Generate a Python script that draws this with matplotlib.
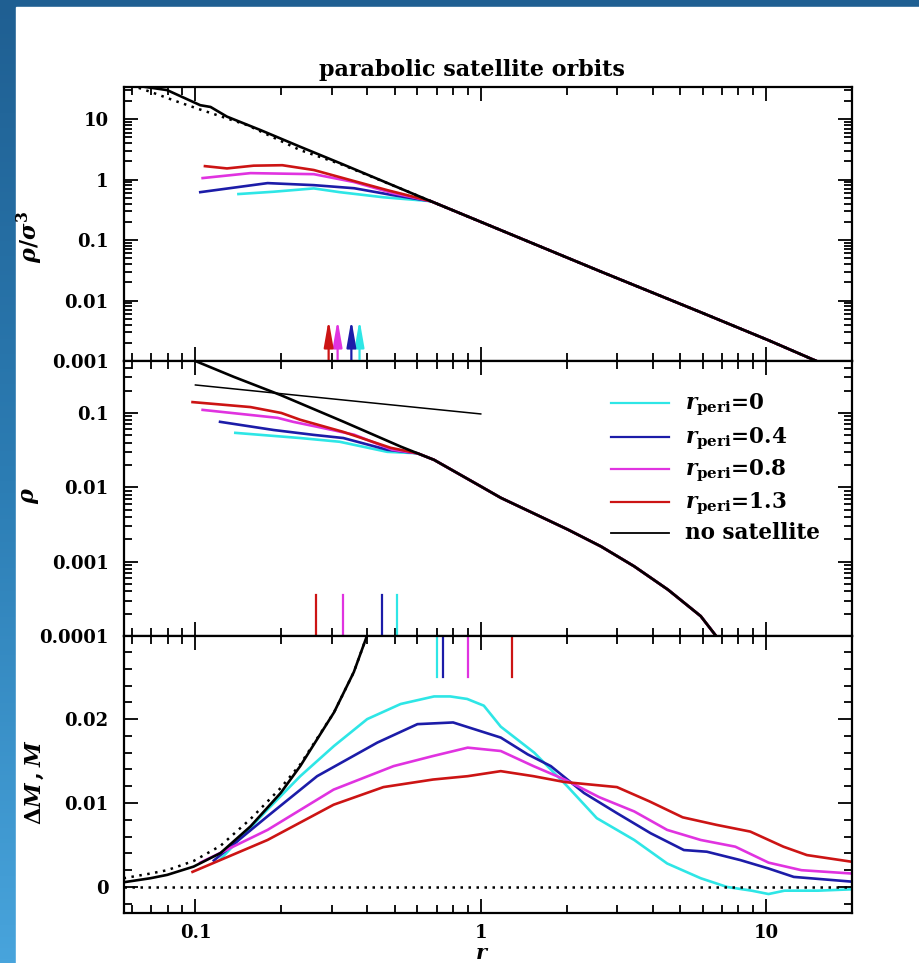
import numpy as np
import matplotlib
matplotlib.use('Agg')
import matplotlib.pyplot as plt
from matplotlib.ticker import LogLocator, MultipleLocator, FuncFormatter, NullFormatter
from matplotlib.patches import Rectangle
from matplotlib.colors import LinearSegmentedColormap

plt.rcParams['font.family'] = ['DejaVu Serif']
plt.rcParams['font.weight'] = 'bold'
plt.rcParams['mathtext.fontset'] = 'dejavuserif'

###############################################################################
# data
###############################################################################
names = ['0', '0.4', '0.8', '1.3']
colors = ['#2ee6e6', '#1c1ca8', '#e033e0', '#cc1414']

# --- top panel: rho / sigma^3 ---
top_black_r = [0.056, 0.0607, 0.0796, 0.104, 0.113, 0.129, 0.169, 0.233, 0.323, 0.524, 0.668, 1.175, 2.64, 5.9, 10.2, 15.0]
top_black_v = [38.0, 36.4, 30.2, 17.0, 15.9, 11.0, 6.6, 3.49, 1.85, 0.71, 0.44, 0.146, 0.030, 0.0064, 0.0022, 0.001]
top_dot_r = [0.056, 0.07, 0.085, 0.104, 0.152, 0.233, 0.323, 0.524, 0.668, 1.175, 2.64, 5.9, 10.2, 15.0]
top_dot_v = [40.0, 28.0, 20.0, 14.4, 7.96, 3.07, 1.80, 0.71, 0.44, 0.146, 0.030, 0.0064, 0.0022, 0.001]
top_tail_r = [1.175, 2.64, 5.9, 10.2, 15.0]
top_tail_v = [0.146, 0.030, 0.0064, 0.0022, 0.001]
top_cyan_r = [0.1415, 0.188, 0.26, 0.32, 0.456, 0.668]
top_cyan_v = [0.577, 0.63, 0.715, 0.62, 0.51, 0.44]
top_blue_r = [0.104, 0.179, 0.26, 0.36, 0.49, 0.668]
top_blue_v = [0.62, 0.875, 0.81, 0.72, 0.555, 0.44]
top_mag_r = [0.106, 0.156, 0.26, 0.36, 0.49, 0.668]
top_mag_v = [1.06, 1.28, 1.23, 0.91, 0.60, 0.44]
top_red_r = [0.108, 0.129, 0.16, 0.2016, 0.26, 0.35, 0.47, 0.668]
top_red_v = [1.67, 1.53, 1.70, 1.73, 1.44, 0.98, 0.67, 0.44]
arrow_r = [0.376, 0.352, 0.315, 0.293]          # cyan, blue, magenta, red
arrow_lo, arrow_hi = 0.001, 0.0048

# --- middle panel: rho ---
mid_black_r = [0.098, 0.1, 0.136, 0.199, 0.33, 0.524, 0.6, 0.686, 1.0, 1.175, 2.02, 2.64, 3.45, 4.53, 5.9, 6.68, 7.2]
mid_black_v = [0.52, 0.5, 0.307, 0.174, 0.0764, 0.0353, 0.0287, 0.0234, 0.0103, 0.00723, 0.0027, 0.0016, 0.000865, 0.00042, 0.000185, 0.0001, 0.00008]
mid_thin_r = [0.1, 1.0]
mid_thin_v = [0.238, 0.097]
mid_tail_r = [1.0, 1.175, 2.02, 2.64, 3.45, 4.53, 5.9, 6.68, 7.2]
mid_tail_v = [0.0103, 0.00723, 0.0027, 0.0016, 0.000865, 0.00042, 0.000185, 0.0001, 0.00008]
mid_cyan_r = [0.138, 0.233, 0.32, 0.47, 0.6, 0.686]
mid_cyan_v = [0.054, 0.046, 0.041, 0.030, 0.0287, 0.0234]
mid_blue_r = [0.122, 0.188, 0.26, 0.33, 0.47, 0.6, 0.686]
mid_blue_v = [0.076, 0.059, 0.0507, 0.046, 0.032, 0.0287, 0.0234]
mid_mag_r = [0.106, 0.194, 0.22, 0.268, 0.36, 0.49, 0.6, 0.686]
mid_mag_v = [0.11, 0.086, 0.076, 0.065, 0.051, 0.032, 0.0287, 0.0234]
mid_red_r = [0.0977, 0.156, 0.2, 0.233, 0.33, 0.483, 0.6, 0.686]
mid_red_v = [0.14, 0.12, 0.10, 0.081, 0.0556, 0.034, 0.0287, 0.0234]
mid_mark_r = [0.51, 0.45, 0.33, 0.264]
mid_mark_lo, mid_mark_hi = 0.0001, 0.00036

# --- bottom panel: Delta M, M ---
bot_black_r = [0.056, 0.0695, 0.0796, 0.0986, 0.1224, 0.156, 0.199, 0.233, 0.306, 0.359, 0.40, 0.42]
bot_black_v = [0.00056, 0.00104, 0.00144, 0.00243, 0.00404, 0.00722, 0.0112, 0.0144, 0.0208, 0.0256, 0.030, 0.033]
bot_dot_r = [0.056, 0.0695, 0.0796, 0.0986, 0.1224, 0.156, 0.199, 0.233, 0.306, 0.359, 0.40, 0.42]
bot_dot_v = [0.00104, 0.0016, 0.0020, 0.0031, 0.0049, 0.0081, 0.0118, 0.0146, 0.0208, 0.0256, 0.030, 0.033]
bot_cyan_r = [0.1224, 0.1786, 0.233, 0.306, 0.40, 0.524, 0.686, 0.782, 0.896, 1.025, 1.175, 1.54, 2.01, 2.55, 3.45, 4.5, 5.9, 7.3, 8.9, 10.2, 11.6, 15.2, 19.9]
bot_cyan_v = [0.0033, 0.0092, 0.0132, 0.0168, 0.020, 0.0218, 0.0227, 0.0227, 0.0224, 0.0216, 0.0191, 0.016, 0.012, 0.0082, 0.0056, 0.0028, 0.00104, 0.0, -0.00044, -0.00084, -0.00044, -0.00044, -0.00028]
bot_blue_r = [0.116, 0.1786, 0.267, 0.434, 0.6, 0.8, 1.175, 1.46, 1.76, 2.3, 3.0, 3.94, 5.15, 6.2, 8.13, 10.2, 12.5, 19.9]
bot_blue_v = [0.00315, 0.0084, 0.0132, 0.0172, 0.0194, 0.0196, 0.0178, 0.0158, 0.0144, 0.0112, 0.0088, 0.0064, 0.0044, 0.0042, 0.0032, 0.0022, 0.0012, 0.00064]
bot_mag_r = [0.104, 0.179, 0.305, 0.495, 0.68, 0.9, 1.175, 1.53, 1.97, 2.6, 3.45, 4.5, 5.9, 7.8, 10.2, 13.3, 20.0]
bot_mag_v = [0.0029, 0.0068, 0.0116, 0.0144, 0.0156, 0.0166, 0.0162, 0.0144, 0.0128, 0.0107, 0.0090, 0.0068, 0.0056, 0.0048, 0.0029, 0.0020, 0.0016]
bot_red_r = [0.0977, 0.179, 0.305, 0.456, 0.68, 0.9, 1.175, 1.53, 1.97, 3.0, 3.9, 5.1, 6.7, 8.8, 11.5, 13.9, 20.0]
bot_red_v = [0.0018, 0.0056, 0.0098, 0.0119, 0.0128, 0.0132, 0.0138, 0.0132, 0.0125, 0.0119, 0.0102, 0.0083, 0.0074, 0.0066, 0.0048, 0.0038, 0.0030]
bot_mark_r = [0.70, 0.736, 0.905, 1.29]
bot_mark_lo, bot_mark_hi = 0.025, 0.0299

###############################################################################
# figure + blue frame
###############################################################################
W, H = 920, 963
fig = plt.figure(figsize=(W / 100, H / 100), dpi=100)
bg = fig.add_axes([0, 0, 1, 1], zorder=-1)
cmap = LinearSegmentedColormap.from_list('frame', ['#1f5f92', '#2c7db4', '#48a4dc'])
bg.imshow(np.linspace(0, 1, 256).reshape(-1, 1), cmap=cmap, aspect='auto', extent=(0, W, H, 0))
bg.add_patch(Rectangle((16, 7), W - 16, H - 7, color='white'))
bg.set_xlim(0, W)
bg.set_ylim(H, 0)
bg.axis('off')

left, width = 124 / W, (852 - 124) / W
def box(top, bot):
    return [left, 1 - bot / H, width, (bot - top) / H]

ax1 = fig.add_axes(box(87, 361))
ax2 = fig.add_axes(box(361, 636))
ax3 = fig.add_axes(box(636, 913))

fmt = FuncFormatter(lambda v, p: '%g' % v)
for ax in (ax1, ax2, ax3):
    ax.set_xscale('log')
    ax.set_xlim(0.0562, 20)
    ax.xaxis.set_major_locator(LogLocator(base=10, numticks=20))
    ax.xaxis.set_minor_locator(LogLocator(base=10, subs=np.arange(2, 10), numticks=20))
    ax.xaxis.set_minor_formatter(NullFormatter())
    ax.tick_params(which='both', direction='in', top=True, right=True, width=1.3, labelsize=13, pad=11)
    ax.tick_params(which='major', length=10)
    ax.tick_params(which='minor', length=5.5)
    for s in ax.spines.values():
        s.set_linewidth(1.6)
for ax in (ax1, ax2):
    ax.set_yscale('log')
    ax.yaxis.set_major_locator(LogLocator(base=10, numticks=20))
    ax.yaxis.set_minor_locator(LogLocator(base=10, subs=np.arange(2, 10), numticks=20))
    ax.yaxis.set_major_formatter(fmt)
    ax.yaxis.set_minor_formatter(NullFormatter())
    ax.tick_params(axis='x', labelbottom=False)
ax3.xaxis.set_major_formatter(fmt)
ax3.tick_params(axis='x', pad=8)
ax3.yaxis.set_major_locator(MultipleLocator(0.01))
ax3.yaxis.set_minor_locator(MultipleLocator(0.002))
ax3.yaxis.set_major_formatter(fmt)

lw = 1.9
dots = (0, (1, 2.2))

# top panel
top_heads = [(top_cyan_r, top_cyan_v), (top_blue_r, top_blue_v), (top_mag_r, top_mag_v), (top_red_r, top_red_v)]
for (r, v), c in zip(top_heads, colors):
    ax1.plot(r + top_tail_r, v + top_tail_v, color=c, lw=lw)
ax1.plot(top_dot_r, top_dot_v, color='k', lw=1.8, ls=dots)
ax1.plot(top_black_r, top_black_v, color='k', lw=lw)
for r, c in zip(arrow_r, colors):
    ax1.annotate('', xy=(r, arrow_hi), xytext=(r, arrow_lo),
                 arrowprops=dict(arrowstyle='-|>,head_length=0.8,head_width=0.14', color=c,
                                 lw=1.6, mutation_scale=20, shrinkA=0, shrinkB=0))
ax1.set_ylim(0.001, 34)
fig.text(472 / W, 1 - 70 / H, 'parabolic satellite orbits', fontsize=16, ha='center', va='center')

# middle panel
mid_heads = [(mid_cyan_r, mid_cyan_v), (mid_blue_r, mid_blue_v), (mid_mag_r, mid_mag_v), (mid_red_r, mid_red_v)]
for (r, v), c in zip(mid_heads, colors):
    ax2.plot(r + mid_tail_r, v + mid_tail_v, color=c, lw=lw)
ax2.plot(mid_black_r, mid_black_v, color='k', lw=lw)
ax2.plot(mid_thin_r, mid_thin_v, color='k', lw=1.1)
for r, c in zip(mid_mark_r, colors):
    ax2.plot([r, r], [mid_mark_lo, mid_mark_hi], color=c, lw=1.6)
ax2.set_ylim(0.0001, 0.5)

# legend, drawn by hand so the rows are evenly spaced
rows = [0.847, 0.724, 0.607, 0.487, 0.375]
leg_labels = [r'$r_{\mathbf{peri}}$=' + n for n in names] + ['no satellite']
for y, c, t in zip(rows, colors + ['k'], leg_labels):
    ax2.plot([0.669, 0.749], [y, y], color=c, lw=1.6 if c != 'k' else 1.3, transform=ax2.transAxes)
    ax2.text(0.771, y - 0.022, t, transform=ax2.transAxes, fontsize=15.5, va='baseline', ha='left')

# bottom panel
bot_curves = [(bot_cyan_r, bot_cyan_v), (bot_blue_r, bot_blue_v), (bot_mag_r, bot_mag_v), (bot_red_r, bot_red_v)]
for (r, v), c in zip(bot_curves, colors):
    ax3.plot(r, v, color=c, lw=lw)
ax3.plot(bot_dot_r, bot_dot_v, color='k', lw=1.8, ls=dots)
ax3.plot(bot_black_r, bot_black_v, color='k', lw=lw)
ax3.axhline(0, color='k', lw=1.8, ls=dots)
for r, c in zip(bot_mark_r, colors):
    ax3.plot([r, r], [bot_mark_lo, bot_mark_hi], color=c, lw=1.6)
ax3.set_ylim(-0.0031, 0.0299)

fig.text(30 / W, 1 - 237 / H, r'$\rho/\sigma^3$', rotation=90, fontsize=16, ha='center', va='center')
fig.text(30 / W, 1 - 495 / H, r'$\rho$', rotation=90, fontsize=16, ha='center', va='center')
fig.text(35 / W, 1 - 782 / H, r'$\Delta M\,,M$', rotation=90, fontsize=16, ha='center', va='center')
fig.text(482 / W, 0.004, r'$r$', fontsize=15, ha='center', va='baseline')

fig.savefig('out.png', dpi=100)
